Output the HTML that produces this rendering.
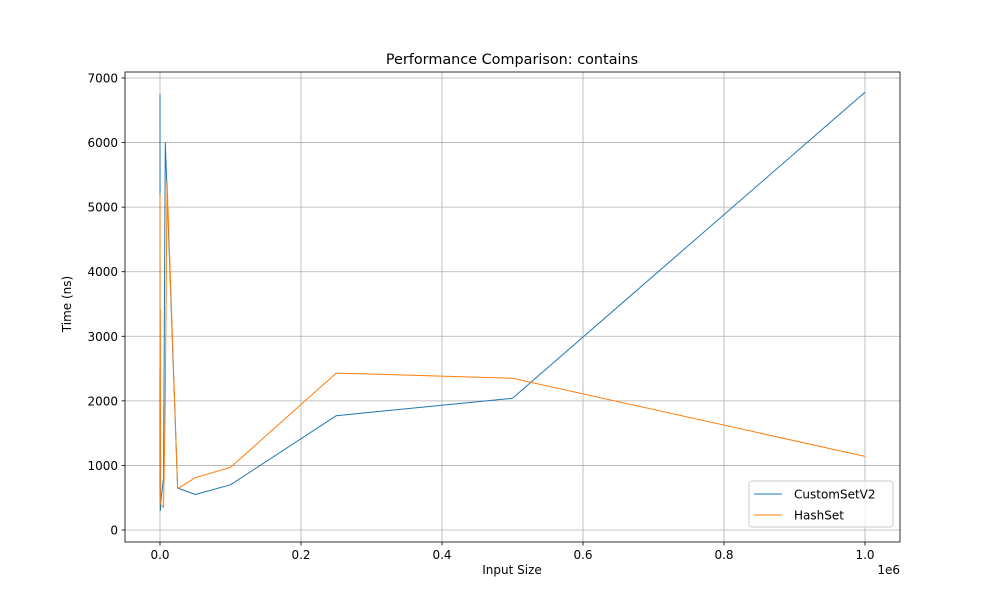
<!DOCTYPE html>
<html><head><meta charset="utf-8"><style>
body{margin:0;background:#fff;width:1000px;height:600px;overflow:hidden;font-family:"Liberation Sans","DejaVu Sans",sans-serif}
</style></head><body>
<svg id="chart" width="1000" height="600" xmlns="http://www.w3.org/2000/svg" font-family="DejaVu Sans, Liberation Sans, sans-serif"></svg>
<script>
const xValues = [10, 100, 500, 1000, 5000, 7500, 10000, 25000, 50000, 100000, 250000, 500000, 1000000];
const customSetV2 = [6750, 700, 300, 420, 800, 6000, 5240, 650, 550, 700, 1770, 2040, 6780];
const hashSet = [5200, 2500, 3400, 400, 350, 2000, 5400, 640, 810, 970, 2430, 2350, 1140];
const xTicks = [0, 0.2e6, 0.4e6, 0.6e6, 0.8e6, 1e6];
const xTickLabels = ["0.0", "0.2", "0.4", "0.6", "0.8", "1.0"];
const yTicks = [0, 1000, 2000, 3000, 4000, 5000, 6000, 7000];

const svg = document.getElementById('chart');
const NS = 'http://www.w3.org/2000/svg';
const L = 125, R = 900, T = 72, B = 542;
const xs = v => 160 + v * 705 / 1e6;
const ys = v => 530 - v * 452 / 7000;
function mk(tag, attrs, parent) {
  const e = document.createElementNS(NS, tag);
  for (const k in attrs) e.setAttribute(k, attrs[k]);
  (parent || svg).appendChild(e);
  return e;
}
// grid
xTicks.forEach((t, i) => {
  const g = mk('line', {x1: xs(t), x2: xs(t), y1: T, y2: B, stroke: '#b0b0b0', 'stroke-width': 0.8});
  
  
  const tk = mk('line', {x1: xs(t), x2: xs(t), y1: B, y2: B + 3.5, stroke: '#000', 'stroke-width': 0.8});
  
  
  const tx = mk('text', {x: xs(t), y: B + 17, 'text-anchor': 'middle', 'font-size': 12});
  tx.textContent = xTickLabels[i];
  
  
});
yTicks.forEach(t => {
  const g = mk('line', {x1: L, x2: R, y1: ys(t), y2: ys(t), stroke: '#b0b0b0', 'stroke-width': 0.8});
  
  
  const tk = mk('line', {x1: L - 3.5, x2: L, y1: ys(t), y2: ys(t), stroke: '#000', 'stroke-width': 0.8});
  
  
  const tx = mk('text', {x: L - 7, y: ys(t) + 4.5, 'text-anchor': 'end', 'font-size': 12});
  tx.textContent = t;
  
  
});
function series(vals, color, name) {
  const p = mk('polyline', {points: vals.map((v, i) => xs(xValues[i]) + ',' + ys(v)).join(' '), fill: 'none', stroke: color, 'stroke-width': 1, 'stroke-linejoin': 'round'});
  
  
}
series(customSetV2, '#1f77b4', 'customsetv2-line');
series(hashSet, '#ff7f0e', 'hashset-line');
const frame = mk('rect', {x: L, y: T, width: R - L, height: B - T, fill: 'none', stroke: '#000', 'stroke-width': 0.8});


const title = mk('text', {x: 512, y: 64, 'text-anchor': 'middle', 'font-size': 14.4});
title.textContent = 'Performance Comparison: contains';


const xt = mk('text', {x: 512, y: 574, 'text-anchor': 'middle', 'font-size': 12});
xt.textContent = 'Input Size';


const off = mk('text', {x: 900, y: 574, 'text-anchor': 'end', 'font-size': 12});
off.textContent = '1e6';


const yt = mk('text', {x: 71, y: 304, 'text-anchor': 'middle', 'font-size': 12, transform: 'rotate(-90 71 304)'});
yt.textContent = 'Time (ns)';


// legend
const lg = mk('g', {});


mk('rect', {x: 749, y: 481, width: 144, height: 46, rx: 3, fill: '#fff', 'fill-opacity': 0.8, stroke: '#ccc', 'stroke-width': 1}, lg);
[['CustomSetV2', '#1f77b4', 494], ['HashSet', '#ff7f0e', 515]].forEach(([n, c, y]) => {
  const e = mk('g', {}, lg);
  
  
  mk('line', {x1: 754, x2: 782, y1: y, y2: y, stroke: c, 'stroke-width': 1}, e);
  const t = mk('text', {x: 794, y: y + 4.5, 'font-size': 12}, e);
  t.textContent = n;
});
</script>
</body></html>
